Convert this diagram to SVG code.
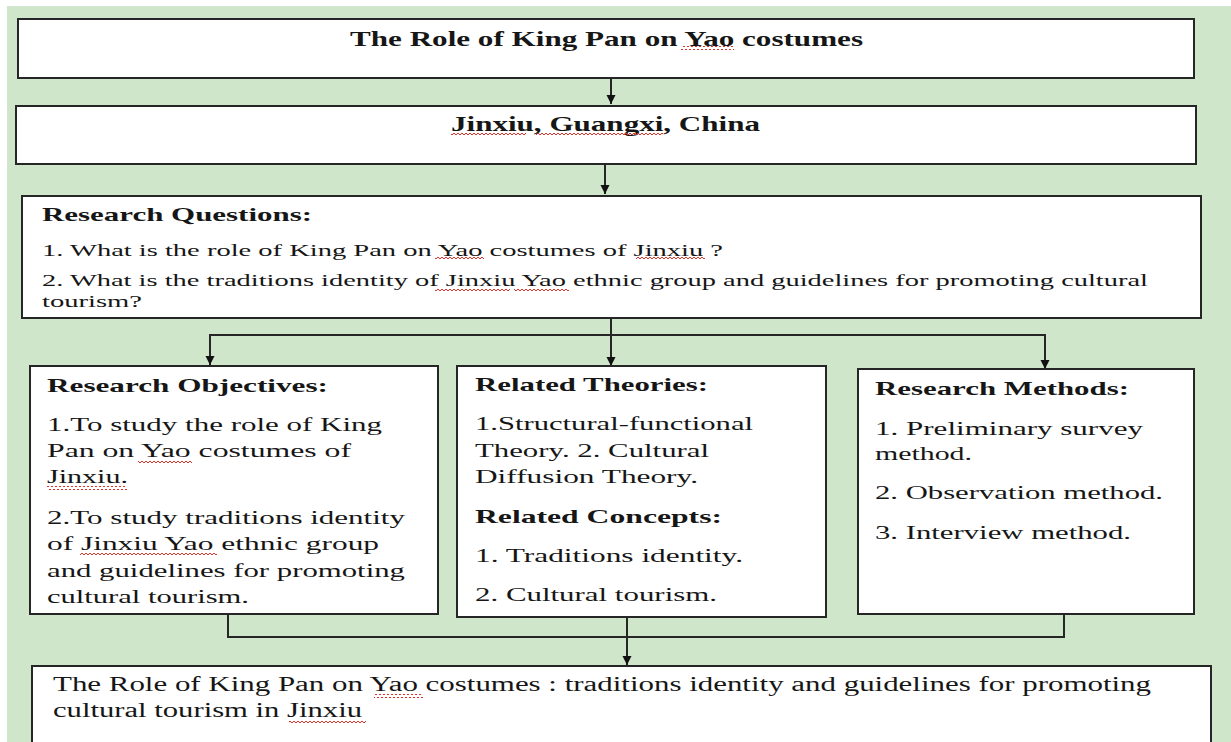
<svg xmlns="http://www.w3.org/2000/svg" width="1231" height="742" viewBox="0 0 1231 742">
<style>
.box{fill:#ffffff;stroke:#262626;stroke-width:2}
.t{font-family:"Liberation Serif","Times New Roman",serif;fill:#161616}
.b{font-weight:bold}
.conn{fill:none;stroke:#262626;stroke-width:2}
.sq{fill:url(#squig)}
</style>
<defs>
<marker id="ah" markerUnits="userSpaceOnUse" markerWidth="10" markerHeight="10" refX="9" refY="5" orient="auto">
<path d="M0,0.5 L9,5 L0,9.5 z" fill="#111"/>
</marker>
<pattern id="squig" patternUnits="userSpaceOnUse" width="4" height="4">
<path d="M0,3 L2,1 L4,3" fill="none" stroke="#e0302a" stroke-width="1"/>
</pattern>
</defs>
<rect x="0" y="0" width="1231" height="742" fill="#ffffff"/>
<rect x="7" y="6" width="1224" height="736" fill="#cfe6cb"/>

<g id="connectors">
<line class="conn" x1="611" y1="78" x2="611" y2="104" marker-end="url(#ah)"/>
<line class="conn" x1="605" y1="164" x2="605" y2="194" marker-end="url(#ah)"/>
<line class="conn" x1="611" y1="318" x2="611" y2="366" marker-end="url(#ah)"/>
<polyline class="conn" points="210,350 210,335 1045,335 1045,350"/>
<line class="conn" x1="210" y1="345" x2="210" y2="365" marker-end="url(#ah)"/>
<line class="conn" x1="1045" y1="345" x2="1045" y2="369" marker-end="url(#ah)"/>
<polyline class="conn" points="228,614 228,637 1064,637 1064,614"/>
<line class="conn" x1="627" y1="614" x2="627" y2="665" marker-end="url(#ah)"/>
</g>

<g id="title">
<rect class="box" x="18" y="19" width="1176" height="59"/>
<text class="t b" x="350" y="46" font-size="21" textLength="513" lengthAdjust="spacingAndGlyphs">The Role of King Pan on Yao costumes</text>
<rect class="sq" x="681" y="46" width="53" height="4"/>
</g>

<g id="location">
<rect class="box" x="16" y="106" width="1180" height="58"/>
<text class="t b" x="451" y="131" font-size="21" textLength="309" lengthAdjust="spacingAndGlyphs">Jinxiu, Guangxi, China</text>
<rect class="sq" x="451" y="133" width="75" height="4"/>
<rect class="sq" x="536" y="133" width="127" height="4"/>
</g>

<g id="questions">
<rect class="box" x="22" y="196" width="1179" height="122"/>
<text class="t b" x="42" y="221" font-size="19" textLength="270" lengthAdjust="spacingAndGlyphs">Research Questions:</text>
<text class="t" x="42" y="256" font-size="17" textLength="681" lengthAdjust="spacingAndGlyphs">1. What is the role of King Pan on Yao costumes of Jinxiu ?</text>
<text class="t" x="42" y="286" font-size="17" textLength="1106" lengthAdjust="spacingAndGlyphs">2. What is the traditions identity of Jinxiu Yao ethnic group and guidelines for promoting cultural</text>
<text class="t" x="42" y="307" font-size="17" textLength="100" lengthAdjust="spacingAndGlyphs">tourism?</text>
<rect class="sq" x="435" y="257" width="49" height="4"/>
<rect class="sq" x="636" y="257" width="69" height="4"/>
<rect class="sq" x="435" y="288" width="75" height="4"/>
<rect class="sq" x="514" y="288" width="55" height="4"/>
</g>

<g id="objectives">
<rect class="box" x="30" y="366" width="408" height="248"/>
<text class="t b" x="47" y="392" font-size="19" textLength="281" lengthAdjust="spacingAndGlyphs">Research Objectives:</text>
<text class="t" x="47" y="431" font-size="19" textLength="335" lengthAdjust="spacingAndGlyphs">1.To study the role of King</text>
<text class="t" x="47" y="457" font-size="19" textLength="304" lengthAdjust="spacingAndGlyphs">Pan on Yao costumes of</text>
<text class="t" x="47" y="483" font-size="19" textLength="81" lengthAdjust="spacingAndGlyphs">Jinxiu.</text>
<text class="t" x="47" y="524" font-size="19" textLength="358" lengthAdjust="spacingAndGlyphs">2.To study traditions identity</text>
<text class="t" x="47" y="550" font-size="19" textLength="332" lengthAdjust="spacingAndGlyphs">of Jinxiu Yao ethnic group</text>
<text class="t" x="47" y="577" font-size="19" textLength="358" lengthAdjust="spacingAndGlyphs">and guidelines for promoting</text>
<text class="t" x="47" y="603" font-size="19" textLength="202" lengthAdjust="spacingAndGlyphs">cultural tourism.</text>
<rect class="sq" x="138" y="461" width="54" height="4"/>
<rect class="sq" x="47" y="486" width="80" height="4"/>
<rect class="sq" x="80" y="553" width="137" height="4"/>
</g>

<g id="theories">
<rect class="box" x="457" y="366" width="369" height="251"/>
<text class="t b" x="475" y="391" font-size="19" textLength="233" lengthAdjust="spacingAndGlyphs">Related Theories:</text>
<text class="t" x="475" y="430" font-size="19" textLength="278" lengthAdjust="spacingAndGlyphs">1.Structural-functional</text>
<text class="t" x="475" y="457" font-size="19" textLength="234" lengthAdjust="spacingAndGlyphs">Theory. 2. Cultural</text>
<text class="t" x="475" y="483" font-size="19" textLength="223" lengthAdjust="spacingAndGlyphs">Diffusion Theory.</text>
<text class="t b" x="475" y="523" font-size="19" textLength="247" lengthAdjust="spacingAndGlyphs">Related Concepts:</text>
<text class="t" x="475" y="562" font-size="19" textLength="268" lengthAdjust="spacingAndGlyphs">1. Traditions identity.</text>
<text class="t" x="475" y="601" font-size="19" textLength="242" lengthAdjust="spacingAndGlyphs">2. Cultural tourism.</text>
</g>

<g id="methods">
<rect class="box" x="858" y="369" width="336" height="245"/>
<text class="t b" x="875" y="395" font-size="19" textLength="254" lengthAdjust="spacingAndGlyphs">Research Methods:</text>
<text class="t" x="875" y="435" font-size="19" textLength="268" lengthAdjust="spacingAndGlyphs">1. Preliminary survey</text>
<text class="t" x="875" y="460" font-size="19" textLength="97" lengthAdjust="spacingAndGlyphs">method.</text>
<text class="t" x="875" y="499" font-size="19" textLength="288" lengthAdjust="spacingAndGlyphs">2. Observation method.</text>
<text class="t" x="875" y="539" font-size="19" textLength="256" lengthAdjust="spacingAndGlyphs">3. Interview method.</text>
</g>

<g id="outcome">
<rect class="box" x="32" y="666" width="1179" height="90"/>
<text class="t" x="53" y="691" font-size="20" textLength="1098" lengthAdjust="spacingAndGlyphs">The Role of King Pan on Yao costumes : traditions identity and guidelines for promoting</text>
<text class="t" x="53" y="717" font-size="20" textLength="309" lengthAdjust="spacingAndGlyphs">cultural tourism in Jinxiu</text>
<rect class="sq" x="374" y="694" width="49" height="4"/>
<rect class="sq" x="289" y="720" width="77" height="4"/>
</g>
</svg>
